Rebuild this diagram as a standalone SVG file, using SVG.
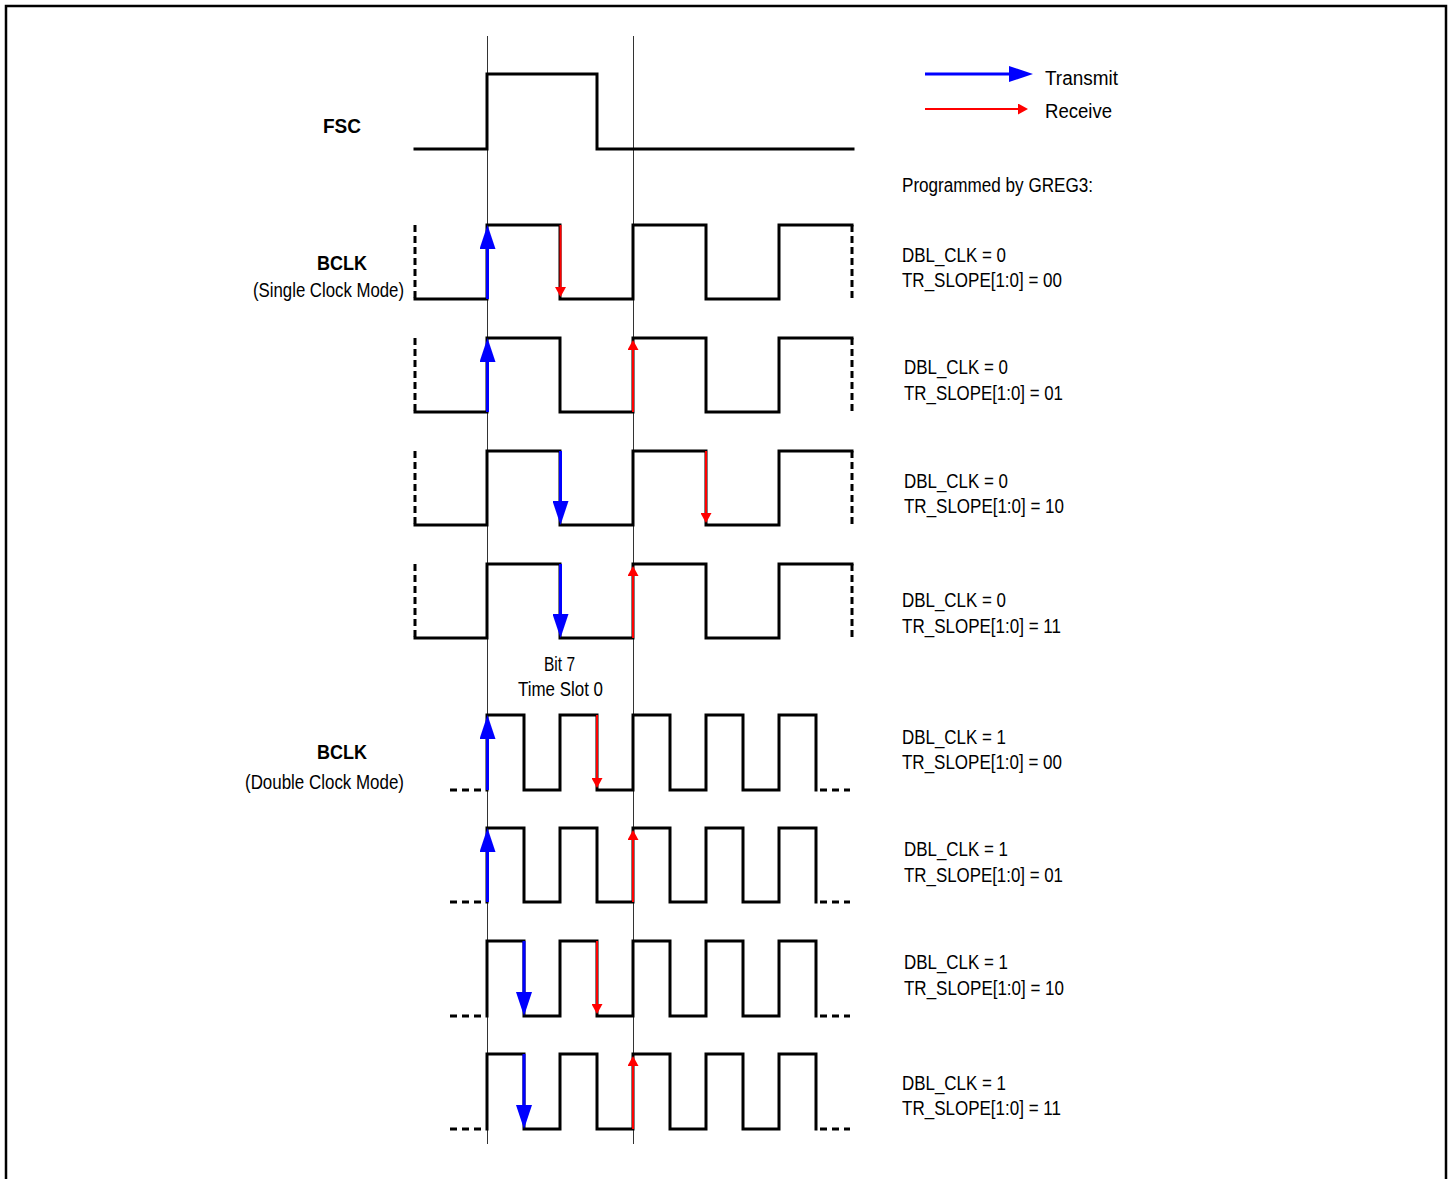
<svg xmlns="http://www.w3.org/2000/svg" width="1452" height="1179" viewBox="0 0 1452 1179">
<style>
.wave{fill:none;stroke:#000;stroke-width:3;stroke-linejoin:miter;stroke-linecap:square}
.dv{fill:none;stroke:#000;stroke-width:3;stroke-dasharray:7 4}
.dh{fill:none;stroke:#000;stroke-width:3;stroke-dasharray:7 5}
.guide{stroke:#333;stroke-width:1;fill:none}
.tx{stroke:#0000ff;stroke-width:3;fill:none}
.rx{stroke:#ff0000;stroke-width:2;fill:none}
.t{font-family:"Liberation Sans",Arial,sans-serif;font-size:19.5px;fill:#000}
.b{font-family:"Liberation Sans",Arial,sans-serif;font-size:20.5px;font-weight:bold;fill:#000}
</style>
<defs>
<marker id="bh" markerUnits="userSpaceOnUse" markerWidth="24" markerHeight="16" refX="12" refY="8" orient="auto" viewBox="0 0 24 16"><path d="M0,0 L24,8 L0,16 z" fill="#0000ff"/></marker>
<marker id="rh" markerUnits="userSpaceOnUse" markerWidth="10" markerHeight="11" refX="6" refY="5.5" orient="auto" viewBox="0 0 10 11"><path d="M0,0 L10,5.5 L0,11 z" fill="#ff0000"/></marker>
</defs>
<rect width="1452" height="1179" fill="#fff"/>
<path d="M6,1190 V6 H1446 V1190" fill="none" stroke="#000" stroke-width="2.5"/>

<g id="guides">
<line class="guide" x1="487.5" y1="36" x2="487.5" y2="1144"/>
<line class="guide" x1="633.5" y1="36" x2="633.5" y2="1144"/>
</g>

<g id="fsc">
<path class="wave" d="M415,149 H487 V74 H597 V149 H853"/>
<text class="b" x="342" y="133" text-anchor="middle" textLength="38" lengthAdjust="spacingAndGlyphs">FSC</text>
</g>

<g id="bclk-single-label">
<text class="b" x="342" y="270" text-anchor="middle" textLength="50" lengthAdjust="spacingAndGlyphs">BCLK</text>
<text class="t" x="253" y="297" textLength="151" lengthAdjust="spacingAndGlyphs">(Single Clock Mode)</text>
</g>
<g id="bclk-double-label">
<text class="b" x="342" y="759" text-anchor="middle" textLength="50" lengthAdjust="spacingAndGlyphs">BCLK</text>
<text class="t" x="245" y="789" textLength="159" lengthAdjust="spacingAndGlyphs">(Double Clock Mode)</text>
</g>

<g id="s1">
<path class="dv" d="M415,225 V299"/><path class="dv" d="M852,225 V299"/>
<path class="wave" d="M415,299 H487 V225 H560 V299 H633 V225 H706 V299 H779 V225 H852"/>
</g>
<g id="s2">
<path class="dv" d="M415,338 V412"/><path class="dv" d="M852,338 V412"/>
<path class="wave" d="M415,412 H487 V338 H560 V412 H633 V338 H706 V412 H779 V338 H852"/>
</g>
<g id="s3">
<path class="dv" d="M415,451 V525"/><path class="dv" d="M852,451 V525"/>
<path class="wave" d="M415,525 H487 V451 H560 V525 H633 V451 H706 V525 H779 V451 H852"/>
</g>
<g id="s4">
<path class="dv" d="M415,564 V638"/><path class="dv" d="M852,564 V638"/>
<path class="wave" d="M415,638 H487 V564 H560 V638 H633 V564 H706 V638 H779 V564 H852"/>
</g>

<g id="d1">
<path class="dh" d="M450,790 H485"/><path class="dh" d="M820,790 H850"/>
<path class="wave" d="M487,790 V715 H524 V790 H560 V715 H597 V790 H633 V715 H670 V790 H706 V715 H743 V790 H779 V715 H816 V790"/>
</g>
<g id="d2">
<path class="dh" d="M450,902 H485"/><path class="dh" d="M820,902 H850"/>
<path class="wave" d="M487,902 V828 H524 V902 H560 V828 H597 V902 H633 V828 H670 V902 H706 V828 H743 V902 H779 V828 H816 V902"/>
</g>
<g id="d3">
<path class="dh" d="M450,1016 H485"/><path class="dh" d="M820,1016 H850"/>
<path class="wave" d="M487,1016 V941 H524 V1016 H560 V941 H597 V1016 H633 V941 H670 V1016 H706 V941 H743 V1016 H779 V941 H816 V1016"/>
</g>
<g id="d4">
<path class="dh" d="M450,1129 H485"/><path class="dh" d="M820,1129 H850"/>
<path class="wave" d="M487,1129 V1054 H524 V1129 H560 V1054 H597 V1129 H633 V1054 H670 V1129 H706 V1054 H743 V1129 H779 V1054 H816 V1129"/>
</g>

<g id="connectors">
<line class="tx" x1="487.5" y1="299" x2="487.5" y2="237" marker-end="url(#bh)"/>
<line class="rx" x1="560.5" y1="225" x2="560.5" y2="293" marker-end="url(#rh)"/>
<line class="tx" x1="487.5" y1="412" x2="487.5" y2="350" marker-end="url(#bh)"/>
<line class="rx" x1="633" y1="412" x2="633" y2="344" marker-end="url(#rh)"/>
<line class="tx" x1="560.5" y1="451" x2="560.5" y2="513" marker-end="url(#bh)"/>
<line class="rx" x1="706" y1="451" x2="706" y2="519" marker-end="url(#rh)"/>
<line class="tx" x1="560.5" y1="564" x2="560.5" y2="626" marker-end="url(#bh)"/>
<line class="rx" x1="633" y1="638" x2="633" y2="570" marker-end="url(#rh)"/>
<line class="tx" x1="487.5" y1="790" x2="487.5" y2="727" marker-end="url(#bh)"/>
<line class="rx" x1="597" y1="715" x2="597" y2="784" marker-end="url(#rh)"/>
<line class="tx" x1="487.5" y1="902" x2="487.5" y2="840" marker-end="url(#bh)"/>
<line class="rx" x1="633" y1="902" x2="633" y2="834" marker-end="url(#rh)"/>
<line class="tx" x1="524" y1="941" x2="524" y2="1004" marker-end="url(#bh)"/>
<line class="rx" x1="597" y1="941" x2="597" y2="1010" marker-end="url(#rh)"/>
<line class="tx" x1="524" y1="1054" x2="524" y2="1117" marker-end="url(#bh)"/>
<line class="rx" x1="633" y1="1129" x2="633" y2="1060" marker-end="url(#rh)"/>
</g>

<g id="legend">
<line class="tx" x1="925" y1="74" x2="1021" y2="74" marker-end="url(#bh)"/>
<line class="rx" x1="925" y1="109" x2="1024" y2="109" marker-end="url(#rh)"/>
<text class="t" x="1045" y="85" textLength="73" lengthAdjust="spacingAndGlyphs">Transmit</text>
<text class="t" x="1045" y="118" textLength="67" lengthAdjust="spacingAndGlyphs">Receive</text>
<text class="t" x="902" y="192" textLength="191" lengthAdjust="spacingAndGlyphs">Programmed by GREG3:</text>
</g>

<g id="bit7-label">
<text class="t" x="544" y="671" textLength="31" lengthAdjust="spacingAndGlyphs">Bit 7</text>
<text class="t" x="518" y="696" textLength="85" lengthAdjust="spacingAndGlyphs">Time Slot 0</text>
</g>

<g id="settings">
<text class="t" x="902" y="262" textLength="104" lengthAdjust="spacingAndGlyphs">DBL_CLK = 0</text>
<text class="t" x="902" y="287" textLength="160" lengthAdjust="spacingAndGlyphs">TR_SLOPE[1:0] = 00</text>
<text class="t" x="904" y="374" textLength="104" lengthAdjust="spacingAndGlyphs">DBL_CLK = 0</text>
<text class="t" x="904" y="400" textLength="159" lengthAdjust="spacingAndGlyphs">TR_SLOPE[1:0] = 01</text>
<text class="t" x="904" y="488" textLength="104" lengthAdjust="spacingAndGlyphs">DBL_CLK = 0</text>
<text class="t" x="904" y="513" textLength="160" lengthAdjust="spacingAndGlyphs">TR_SLOPE[1:0] = 10</text>
<text class="t" x="902" y="607" textLength="104" lengthAdjust="spacingAndGlyphs">DBL_CLK = 0</text>
<text class="t" x="902" y="633" textLength="159" lengthAdjust="spacingAndGlyphs">TR_SLOPE[1:0] = 11</text>
<text class="t" x="902" y="744" textLength="104" lengthAdjust="spacingAndGlyphs">DBL_CLK = 1</text>
<text class="t" x="902" y="769" textLength="160" lengthAdjust="spacingAndGlyphs">TR_SLOPE[1:0] = 00</text>
<text class="t" x="904" y="856" textLength="104" lengthAdjust="spacingAndGlyphs">DBL_CLK = 1</text>
<text class="t" x="904" y="882" textLength="159" lengthAdjust="spacingAndGlyphs">TR_SLOPE[1:0] = 01</text>
<text class="t" x="904" y="969" textLength="104" lengthAdjust="spacingAndGlyphs">DBL_CLK = 1</text>
<text class="t" x="904" y="995" textLength="160" lengthAdjust="spacingAndGlyphs">TR_SLOPE[1:0] = 10</text>
<text class="t" x="902" y="1090" textLength="104" lengthAdjust="spacingAndGlyphs">DBL_CLK = 1</text>
<text class="t" x="902" y="1115" textLength="159" lengthAdjust="spacingAndGlyphs">TR_SLOPE[1:0] = 11</text>
</g>
</svg>
